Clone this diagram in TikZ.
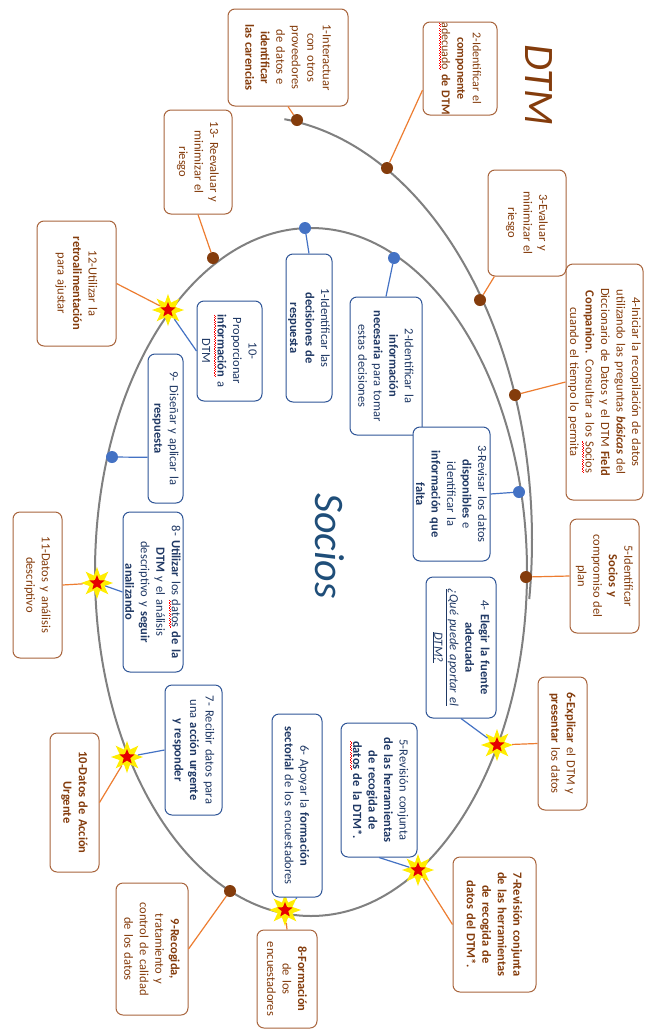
\documentclass[tikz,border=0pt]{standalone}
\usepackage{fontspec}
\setmainfont{Carlito}
\usetikzlibrary{shapes.geometric}
\definecolor{dtmbrown}{HTML}{843C0C}
\definecolor{dtmedge}{HTML}{A8643C}
\definecolor{dtmorange}{HTML}{ED7D31}
\definecolor{socnavy}{HTML}{1F3864}
\definecolor{socedge}{HTML}{2F5597}
\definecolor{socblue}{HTML}{4472C4}
\definecolor{soctitle}{HTML}{1F4E79}
\newcommand\redwave[1]{\leavevmode\setbox0\hbox{#1}\rlap{\raisebox{-3.2pt}{\textcolor{red}{\hbox to \wd0{\xleaders\hbox{\rule{1.2pt}{0.7pt}\raisebox{0.9pt}{\rule{1.2pt}{0.7pt}}}\hfill}}}}\box0\relax}

\begin{document}
\begin{tikzpicture}[x=1pt, y=-1pt,
	box/.style={draw, rounded corners=7pt, rotate=-90, align=center, fill=white, inner sep=1.5pt, line width=1pt, font=\fontsize{12.5}{15.5}\selectfont},
	dtmbox/.style={box, draw=dtmedge, text=dtmbrown},
	socbox/.style={box, draw=socedge, text=socnavy},
	browndot/.style={circle, fill=dtmbrown, inner sep=0pt, minimum size=12pt},
	bluedot/.style={circle, fill=socblue, inner sep=0pt, minimum size=12pt},
	burst/.style={star, star points=8, star point ratio=2, minimum size=32pt, inner sep=0pt, fill=yellow!95!orange},
	redstar/.style={star, star points=5, star point ratio=2.3, minimum size=16pt, inner sep=0pt, fill=red!90!black},
	orangeline/.style={draw=dtmorange, line width=1.2pt},
	blueline/.style={draw=socblue, line width=1.2pt}]
	\fill[white] (0,0) rectangle (645,1031);
	\useasboundingbox (0,0) rectangle (645,1031);
	\draw[gray, line width=2pt] (311,572) ellipse [x radius=216, y radius=344];
	\draw[gray, line width=2pt] plot[domain=-8:83, smooth, samples=80] ({250+282*cos(\x)}, {540-424*sin(\x)});
	\node[rotate=-90, text=dtmbrown, font=\fontsize{42}{42}\selectfont\itshape] (dtm) at (539,85) {DTM};
	\node[rotate=-90, text=soctitle, font=\fontsize{42}{42}\selectfont\itshape] (socios) at (330,546) {Socios};
	\foreach \n/\p in {d1/{297,120}, d2/{387,168}, d3/{480,300}, d4/{515,395}, d5/{526,577}, d9/{230,891}, d13/{213,258}}
		\node[browndot] (\n) at (\p) {};
	\foreach \n/\p in {p1/{305,228}, p2/{394,258}, p3/{519,492}, p9/{112,457}}
		\node[bluedot] (\n) at (\p) {};
	\foreach \n/\p in {x6/{497,745}, x7/{418,870}, x8/{285,910}, x10/{127,757}, x11/{97,583}, x12/{168,310}}
	{
		\node[burst] (\n) at (\p) {};
		\node[redstar] (\n r) at (\p) {};
	}
	\node[dtmbox, minimum width=97pt, minimum height=120pt, text width=91pt] (b1) at (288,57.5) {1-Interactuar\\con otros\\proveedores\\de datos e\\\textbf{identificar}\\\textbf{las carencias}};
	\node[dtmbox, minimum width=93pt, minimum height=74pt, text width=88pt, font=\fontsize{12}{15.5}\selectfont] (b2) at (460,68.5) {2-Identificar el\\\textbf{componente}\\\makebox[0pt]{\redwave{adecuado} \textbf{de DTM}}};
	\node[dtmbox, minimum width=106pt, minimum height=78pt, text width=100pt] (b3) at (527,223) {3-Evaluar y\\minimizar el\\riesgo};
	\node[dtmbox, minimum width=236pt, minimum height=77pt, text width=230pt] (b4) at (604.5,382) {4-Iniciar la recopilación de datos\\utilizando las preguntas \textbf{\textit{básicas}} del\\Diccionario de Datos y el DTM \textbf{Field}\\\textbf{Companion.} Consultar a los \redwave{Socios}\\cuando el tiempo lo permita};
	\node[dtmbox, minimum width=114pt, minimum height=69pt, text width=108pt] (b5) at (604.5,576) {5-Identificar\\\textbf{Socios y}\\compromiso del\\plan};
	\node[dtmbox, minimum width=133pt, minimum height=49pt, text width=127pt] (b6) at (562.5,743.5) {\textbf{6-Explicar} el DTM y\\\textbf{presentar} los datos};
	\node[dtmbox, minimum width=135pt, minimum height=83pt, text width=129pt] (b7) at (494.5,924.5) {\bfseries 7-Revisión conjunta\\de las herramientas\\de recogida de\\datos del DTM*.};
	\node[dtmbox, minimum width=98pt, minimum height=60pt, text width=92pt] (b8) at (287,979) {\textbf{8-Formación}\\de los\\encuestadores};
	\node[dtmbox, minimum width=132pt, minimum height=72pt, text width=126pt] (b9) at (152,949) {\textbf{9-Recogida,}\\tratamiento y\\control de calidad\\de los datos};
	\node[dtmbox, minimum width=139pt, minimum height=49pt, text width=133pt] (b10) at (74.5,802.5) {\bfseries 10-Datos de Acción\\Urgente};
	\node[dtmbox, minimum width=146pt, minimum height=49pt, text width=140pt] (b11) at (37.5,585) {11-Datos y análisis\\descriptivo};
	\node[dtmbox, minimum width=125pt, minimum height=79pt, text width=119pt] (b12) at (76.5,283.5) {12-Utilizar la\\\textbf{retroalimentación}\\para ajustar};
	\node[dtmbox, minimum width=104pt, minimum height=68pt, text width=98pt] (b13) at (198,162) {13- Reevaluar y\\minimizar el\\riesgo};
	\node[socbox, minimum width=148pt, minimum height=46pt, text width=142pt] (s1) at (309,328) {1-Identificar las\\\textbf{decisiones de}\\\textbf{respuesta}};
	\node[socbox, minimum width=138pt, minimum height=72pt, text width=132pt] (s2) at (386,366) {2-Identificar la\\\textbf{información}\\\textbf{necesaria} para tomar\\estas decisiones};
	\node[socbox, minimum width=134pt, minimum height=77pt, text width=128pt] (s3) at (451.5,494) {3-Revisar los datos\\\textbf{disponibles} e\\identificar la\\\textbf{información que}\\\textbf{falta}};
	\node[socbox, minimum width=141pt, minimum height=70pt, text width=135pt] (s4) at (461,647.5) {4- \textbf{Elegir la fuente}\\\textbf{adecuada}\\\underline{\textit{¿Qué puede aportar el}}\\\underline{\textit{DTM?}}};
	\node[socbox, minimum width=134pt, minimum height=76pt, text width=128pt] (s5) at (379,790) {5-Revisión conjunta\\\textbf{de las herramientas}\\\textbf{de recogida de}\\\redwave{\textbf{datos}} \textbf{de la DTM*.}};
	\node[socbox, minimum width=183pt, minimum height=50pt, text width=177pt] (s6) at (297,805.5) {6- Apoyar la \textbf{formación}\\\textbf{sectorial} de los encuestadores};
	\node[socbox, minimum width=130pt, minimum height=57pt, text width=124pt] (s7) at (193.5,750) {7- Recibir datos para\\una \textbf{acción urgente}\\\textbf{y responder}};
	\node[socbox, minimum width=160pt, minimum height=60pt, text width=154pt] (s8) at (153,592) {8- \textbf{Utilizar} los \redwave{datos} \textbf{de la}\\\textbf{DTM} y el análisis\\descriptivo y \textbf{seguir}\\\textbf{analizando}};
	\node[socbox, minimum width=149pt, minimum height=35pt, text width=143pt] (s9) at (165.5,428.5) {9- Diseñar y aplicar la\\\textbf{respuesta}};
	\node[socbox, minimum width=100pt, minimum height=65pt, text width=94pt] (s10) at (229.5,351) {10-\\Proporcionar\\\redwave{\textbf{información}} a\\DTM};
	\foreach \a/\b in {b1.east/d1, b2.300/d2, b3/d3, b4.south/d4, b5.south/d5, b6.south/x6, b7.south/x7, b8.west/x8, b9.north/d9, b10.north/x10, b11.north/x11, b12.north/x12, b13.east/d13}
		\draw[orangeline] (\a) -- (\b);
	\foreach \a/\b in {s1.west/p1, s2.west/p2, s3.north/p3, s4.east/x6, s5.east/x7, s6.east/x8, s7.south/x10, s8.south/x11, s9.328/p9, s10.south/x12}
		\draw[blueline] (\a) -- (\b);
\end{tikzpicture}
\end{document}
